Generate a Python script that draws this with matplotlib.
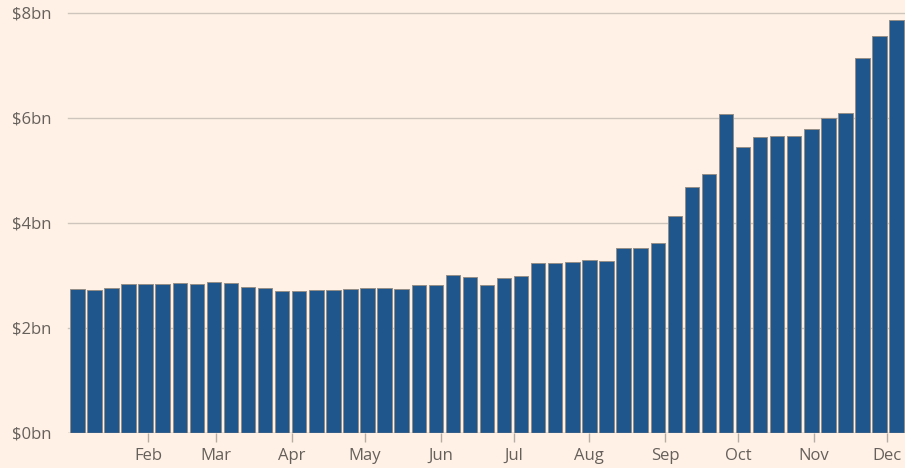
import matplotlib.pyplot as plt
import matplotlib.dates as mdates
import pandas as pd

# Weekly values, $bn
values = [2.73, 2.71, 2.76, 2.83, 2.82, 2.83, 2.85, 2.82, 2.87, 2.85,
          2.78, 2.75, 2.70, 2.70, 2.71, 2.71, 2.73, 2.76, 2.76, 2.73,
          2.81, 2.81, 3.00, 2.97, 2.81, 2.94, 2.98, 3.23, 3.23, 3.25,
          3.28, 3.27, 3.51, 3.51, 3.61, 4.13, 4.67, 4.93, 6.07, 5.43,
          5.63, 5.65, 5.64, 5.78, 6.00, 6.08, 7.13, 7.56, 7.86]
weeks = pd.date_range("2021-01-03", periods=len(values), freq="7D")

y_ticks = [0, 2, 4, 6, 8]
y_labels = ["$0bn", "$2bn", "$4bn", "$6bn", "$8bn"]

BG = "#fff1e5"
BAR = "#1f568c"
GRID = "#cec5bc"
TEXT = "#66605c"

plt.rcParams["font.family"] = ["Open Sans", "DejaVu Sans"]

fig = plt.figure(figsize=(9.05, 4.68), dpi=100, facecolor=BG)
ax = fig.add_axes([68.3 / 905, 35.5 / 468, (905 - 68.3) / 905, 420 / 468])
ax.set_facecolor(BG)

for y in y_ticks[1:]:
    ax.axhline(y, color=GRID, lw=1.0, zorder=0, clip_on=False)

ax.bar(weeks, values, width=5.9, color=BAR, edgecolor="#958e88",
       linewidth=0.7, zorder=2)
ax.axhline(0, color="#8f8882", lw=1.0, zorder=3)

ax.set_ylim(0, 8)
ax.set_xlim(pd.Timestamp("2020-12-30 07:00"), pd.Timestamp("2021-12-08 10:00"))

ax.set_yticks(y_ticks)
ax.set_yticklabels(y_labels)
ax.tick_params(axis="y", length=0, pad=12, labelsize=12, labelcolor=TEXT)

ax.xaxis.set_major_locator(mdates.MonthLocator(bymonth=range(2, 13)))
ax.xaxis.set_major_formatter(mdates.DateFormatter("%b"))
ax.tick_params(axis="x", length=6.5, width=1, color="#b5ada5", pad=4.5,
               labelsize=12, labelcolor=TEXT)

for s in ax.spines.values():
    s.set_visible(False)

fig.savefig("out.png", dpi=100, facecolor=BG)
